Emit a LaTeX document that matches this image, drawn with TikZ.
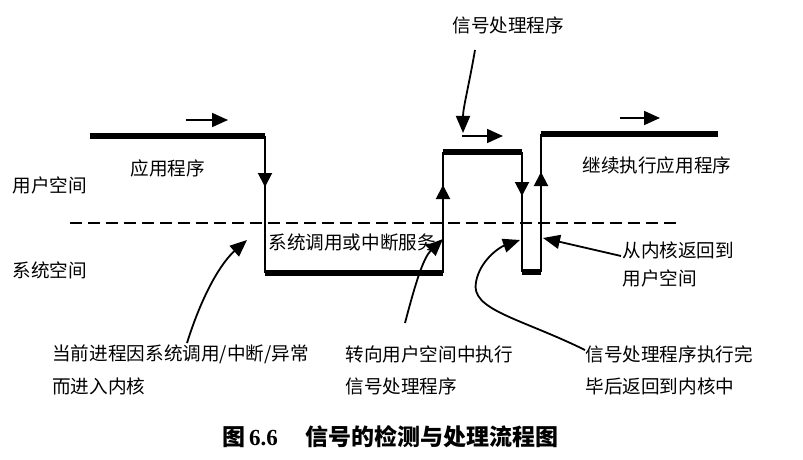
\documentclass[tikz,border=0pt]{standalone}
\usepackage{fontspec}
\setmainfont{Liberation Serif}
\newfontfamily\cjk{Noto Sans CJK SC}
\usetikzlibrary{arrows.meta}
\tikzset{
  lbl/.style={anchor=west, inner sep=0pt, font=\cjk\fontsize{9.3pt}{10pt}\selectfont},
  thickline/.style={line width=2.6pt},
  thinline/.style={line width=1pt},
  midarrow/.style={line width=1pt, -{Triangle[length=7pt,width=7pt]}},
  smallarrow/.style={line width=0.9pt, -{Triangle[length=8pt,width=7pt]}},
  curvearrow/.style={line width=0.9pt, -{Triangle[length=8.5pt,width=7pt]}},
}
\begin{document}
\begin{tikzpicture}[x=0.5pt,y=-0.5pt]
\path[use as bounding box] (0,0) rectangle (803,460);

% labels
\node[lbl] (us) at (12,185) {用户空间};
\node[lbl] (ks) at (12,270) {系统空间};
\node[lbl] (app) at (130,168) {应用程序};
\node[lbl] (svc) at (268,242) {系统调用或中断服务};
\node[lbl] (sigtop) at (452,25) {信号处理程序};
\node[lbl] (cont) at (582,165) {继续执行应用程序};
\node[lbl] (ret1) at (622,250) {从内核返回到};
\node[lbl] (ret2) at (622,278) {用户空间};
\node[lbl] (b1a) at (52,354) {当前进程因系统调用/中断/异常};
\node[lbl] (b1b) at (52,386) {而进入内核};
\node[lbl] (b2a) at (345,354) {转向用户空间中执行};
\node[lbl] (b2b) at (345,386) {信号处理程序};
\node[lbl] (b3a) at (585,354) {信号处理程序执行完};
\node[lbl] (b3b) at (585,386) {毕后返回到内核中};
\node[anchor=west, inner sep=0pt, font=\cjk\bfseries\fontsize{11.5pt}{12pt}\selectfont] (cap) at (222,437)
  {图\,{\rmfamily\bfseries 6.6}\hspace{1.2em}信号的检测与处理流程图};

% path corners
\coordinate (p0) at (90,136);
\coordinate (p1) at (265,136);
\coordinate (p2) at (265,273);
\coordinate (p3) at (443,273);
\coordinate (p4) at (443,152);
\coordinate (p5) at (522,152);
\coordinate (p6) at (522,272);
\coordinate (p7) at (541,272);
\coordinate (p8) at (541,134);
\coordinate (p9) at (718,134);

% dashed boundary
\coordinate (d0) at (70,223);
\coordinate (d1) at (680,223);
\draw[line width=0.8pt, dash pattern=on 6pt off 3pt] (d0) -- (d1);

% thick horizontal runs
\draw[thickline] (p0) -- (p1);
\draw[thickline] (p2) -- (p3);
\draw[thickline] (p4) -- (p5);
\draw[thickline] (p6) -- (p7);
\draw[thickline] (p8) -- (p9);
% verticals
\draw[thinline] (p1) -- (p2);
\draw[thinline] (p3) -- (p4);
\draw[thinline] (p5) -- (p6);
\draw[thinline] (p7) -- (p8);

% mid arrows on verticals
\draw[midarrow] (265,150) -- (265,187);
\draw[midarrow] (443,215) -- (443,185);
\draw[midarrow] (522,165) -- (522,196);
\draw[midarrow] (541,200) -- (541,172);

% small direction arrows
\coordinate (a1s) at (186,120);
\coordinate (a1e) at (228,120);
\draw[smallarrow] (a1s) -- (a1e);
\coordinate (a2s) at (620,118);
\coordinate (a2e) at (660,118);
\draw[smallarrow] (a2s) -- (a2e);
\coordinate (a3s) at (462,136);
\coordinate (a3e) at (503,136);
\draw[smallarrow] (a3s) -- (a3e);

% pointer arrows
\coordinate (t0) at (475,50);
\coordinate (t1) at (463,133);
\draw[curvearrow] (t0) .. controls (469,85) and (463,108) .. (t1);

\coordinate (c1s) at (187,343);
\coordinate (c1e) at (247,240);
\draw[curvearrow] (c1s) .. controls (203,292) and (222,262) .. (c1e);

\coordinate (c2s) at (405,323);
\coordinate (c2e) at (443,239);
\draw[curvearrow] (c2s) .. controls (415,285) and (423,258) .. (c2e);

\coordinate (c3s) at (585,350);
\coordinate (c3m) at (476,282);
\coordinate (c3e) at (520,240);
\draw[curvearrow] (c3s) .. controls (520,318) and (470,310) .. (c3m) .. controls (480,260) and (500,247) .. (c3e);

\coordinate (c4s) at (621,256);
\coordinate (c4e) at (543,238);
\draw[curvearrow] (c4s) -- (c4e);
\end{tikzpicture}
\end{document}
